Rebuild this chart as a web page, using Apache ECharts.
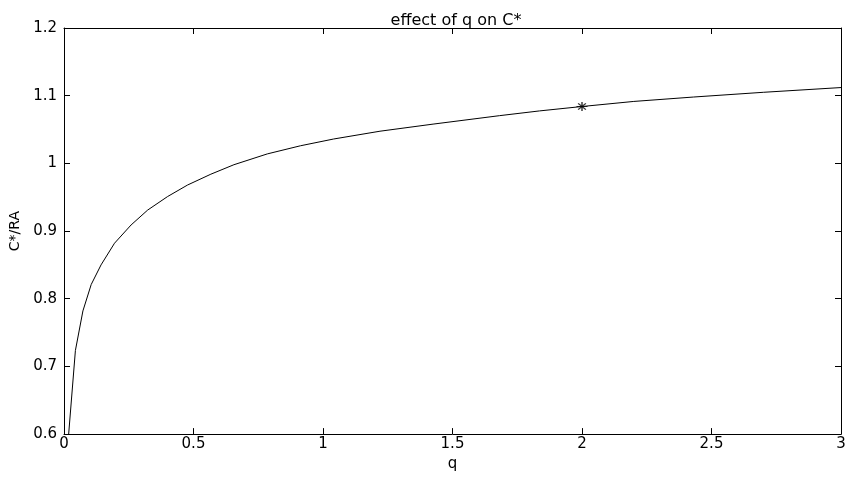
<!DOCTYPE html>
<html>
<head>
<meta charset="utf-8">
<script src="https://cdn.jsdelivr.net/npm/echarts@6/dist/echarts.min.js"></script>
<style>
    html, body { margin: 0; padding: 0; background: #fff; }
    #chart { width: 853px; height: 477px; }
</style>
</head>
<body>
<div id="chart"></div>
<script>
// curve
var qValues = [0.018, 0.044, 0.073, 0.105, 0.143, 0.195, 0.259, 0.323, 0.40, 0.477, 0.567, 0.656, 0.785, 0.913, 1.041, 1.22, 1.425, 1.682, 1.836, 2.0, 2.2, 2.43, 2.7, 3.0];
var ratioValues = [0.600, 0.7235, 0.782, 0.821, 0.850, 0.882, 0.909, 0.931, 0.951, 0.968, 0.984, 0.998, 1.014, 1.026, 1.036, 1.0475, 1.058, 1.0705, 1.0775, 1.084, 1.0915, 1.098, 1.105, 1.112];
// the star point
var markerQ = [2];
var markerRatio = [1.084];

var xTicks = { min: 0, max: 3, interval: 0.5 };
var yTicks = { min: 0.6, max: 1.2, interval: 0.1 };

var fontName = 'DejaVu Sans';
var lineData = qValues.map(function (q, i) { return [q, ratioValues[i]]; });
var starData = markerQ.map(function (q, i) { return [q, markerRatio[i]]; });

var myChart = echarts.init(document.getElementById('chart'));

function boxAxis(t, pos, showLabel) {// axis with ticks pointing inward
    return {
        type: 'value',
        position: pos,
        min: t.min,
        max: t.max,
        interval: t.interval,
        axisLine: { show: true, onZero: false, lineStyle: { color: '#000', width: 1 } },
        axisTick: { show: true, inside: true, length: 6, lineStyle: { color: '#000' } },
        axisLabel: { show: showLabel, color: '#000', fontFamily: fontName, fontSize: 15 },
        splitLine: { show: false }
    };
}

var xBottom = boxAxis(xTicks, 'bottom', true);
xBottom.name = 'q';
xBottom.nameLocation = 'middle';
xBottom.nameGap = 18;
xBottom.nameTextStyle = { color: '#000', fontFamily: fontName, fontSize: 15 };
xBottom.axisLabel.margin = 3;

var yLeft = boxAxis(yTicks, 'left', true);
yLeft.name = 'C*/RA';
yLeft.nameLocation = 'middle';
yLeft.nameGap = 42;
yLeft.nameTextStyle = { color: '#000', fontFamily: fontName, fontSize: 14 };
yLeft.axisLabel.margin = 7;

var option = {
    animation: false,
    backgroundColor: '#fff',
    title: {
        text: 'effect of q on C*',
        left: 451,
        top: 8,
        textAlign: 'center',
        textStyle: { color: '#000', fontFamily: fontName, fontSize: 16, fontWeight: 'normal' }
    },
    grid: { left: 62, right: 12, top: 28, bottom: 40 },
    xAxis: [xBottom, boxAxis(xTicks, 'top', false)],
    yAxis: [yLeft, boxAxis(yTicks, 'right', false)],
    series: [
        {
            type: 'line',
            data: lineData,
            showSymbol: false,
            symbol: 'none',
            clip: true,
            lineStyle: { color: '#000', width: 1 }
        },
        {
            type: 'scatter',
            data: starData,
            symbol: 'path://M0,5L10,5M5,0L5,10M1.5,1.5L8.5,8.5M1.5,8.5L8.5,1.5',
            symbolSize: [11, 9],
            itemStyle: { color: 'none', borderColor: '#000', borderWidth: 1.3 }
        }
    ]
};
myChart.setOption(option);
</script>
</body>
</html>
